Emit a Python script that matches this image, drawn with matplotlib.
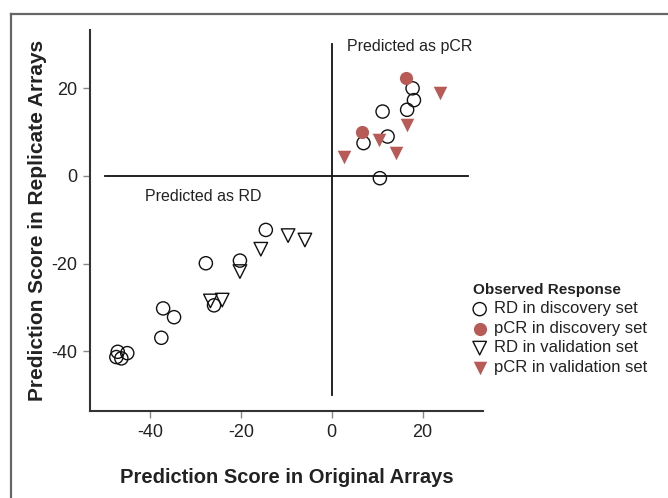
import matplotlib.pyplot as plt
from matplotlib.lines import Line2D

plt.rcParams['axes.unicode_minus'] = False

# RD in discovery set (open circles)
rd_disc_x = [17.8, 18.1, 16.6, 11.2, 12.3, 7.0, 10.6,
             -14.5, -27.7, -20.2, -37.1, -34.7, -37.5, -25.9,
             -47.1, -45.0, -47.4, -46.3]
rd_disc_y = [20.0, 17.3, 15.1, 14.7, 9.0, 7.5, -0.5,
             -12.3, -19.9, -19.3, -30.2, -32.2, -36.9, -29.5,
             -40.1, -40.4, -41.3, -41.6]

# pCR in discovery set (filled circles)
pcr_disc_x = [16.4, 6.7]
pcr_disc_y = [22.3, 10.0]

# RD in validation set (open down triangles)
rd_val_x = [-9.6, -5.9, -15.6, -20.2, -26.7, -24.1]
rd_val_y = [-13.6, -14.6, -16.7, -21.8, -28.5, -28.3]

# pCR in validation set (filled down triangles)
pcr_val_x = [2.7, 10.5, 14.2, 16.6, 23.9]
pcr_val_y = [4.3, 8.2, 5.2, 11.6, 18.9]

ticks = [-40, -20, 0, 20]
red = '#b85a55'
text_font = ['Liberation Sans', 'DejaVu Sans']

fig = plt.figure(figsize=(6.68, 4.98), dpi=100)
ax = fig.add_axes([90 / 668, 1 - 411 / 498, 393 / 668, 381 / 498])

# quadrant lines
ax.plot([-50, 30], [0, 0], color='#111111', lw=1.3, zorder=1)
ax.plot([0, 0], [-50, 30], color='#111111', lw=1.3, zorder=1)

ax.scatter(rd_disc_x, rd_disc_y, s=90, marker='o', facecolors='none',
           edgecolors='#111111', linewidths=1.0, label='RD in discovery set', zorder=3)
ax.scatter(pcr_disc_x, pcr_disc_y, s=90, marker='o', color=red,
           linewidths=0, label='pCR in discovery set', zorder=3)
ax.scatter(rd_val_x, rd_val_y, s=95, marker='v', facecolors='none',
           edgecolors='#111111', linewidths=1.0, label='RD in validation set', zorder=3)
ax.scatter(pcr_val_x, pcr_val_y, s=95, marker='v', color=red,
           linewidths=0, label='pCR in validation set', zorder=3)

ax.text(3.3, 29.5, 'Predicted as pCR', fontsize=11.5, family=text_font,
        color='#222222', va='center')
ax.text(-41, -4.6, 'Predicted as RD', fontsize=11.5, family=text_font,
        color='#222222', va='center')

ax.set_xlim(-53.2, 33.3)
ax.set_ylim(-53.6, 33.3)
ax.set_xticks(ticks)
ax.set_yticks(ticks)
for lab in ax.get_xticklabels() + ax.get_yticklabels():
    lab.set_family(text_font)
ax.tick_params(direction='out', length=5, width=1, color='#888888',
               labelsize=13, labelcolor='#222222', pad=4)
for side in ['top', 'right']:
    ax.spines[side].set_visible(False)
for side in ['left', 'bottom']:
    ax.spines[side].set_color('#333333')
    ax.spines[side].set_linewidth(1.5)

ax.set_xlabel('Prediction Score in Original Arrays', fontsize=14.5,
              fontweight='bold', family=text_font, color='#222222', labelpad=20)
ax.set_ylabel('Prediction Score in Replicate Arrays', fontsize=15,
              fontweight='bold', family=text_font, color='#222222', labelpad=3)

leg = ax.legend(loc='upper left', bbox_to_anchor=(473 / 668, 1 - 283 / 498),
                bbox_transform=fig.transFigure, frameon=False,
                title='Observed Response', alignment='left',
                prop={'family': text_font, 'size': 12},
                title_fontproperties={'family': text_font, 'size': 11, 'weight': 'bold'},
                handlelength=0.8, handletextpad=0.45, labelspacing=0.27,
                borderpad=0, borderaxespad=0)
for t in leg.get_texts():
    t.set_color('#222222')
leg.get_title().set_color('#222222')

# outer grey frame (left and top edges)
fig.add_artist(Line2D([11 / 668, 11 / 668], [0, 1 - 14 / 498],
                      transform=fig.transFigure, color='#666666', lw=1.6))
fig.add_artist(Line2D([11 / 668, 1], [1 - 14 / 498, 1 - 14 / 498],
                      transform=fig.transFigure, color='#666666', lw=1.6))

fig.savefig('out.png', dpi=100)
